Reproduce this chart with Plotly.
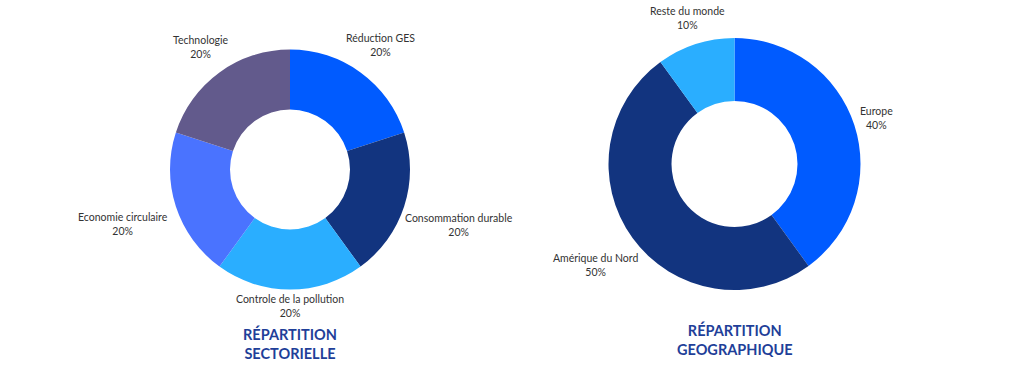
import math
import plotly.graph_objects as go

# ---- data ----
sect_labels = ["Réduction GES", "Consommation durable", "Controle de la pollution",
               "Economie circulaire", "Technologie"]
sect_values = [20, 20, 20, 20, 20]
sect_colors = ["#005BFF", "#12347F", "#2AAEFF", "#4A73FF", "#625A8C"]

geo_labels = ["Europe", "Amérique du Nord", "Reste du monde"]
geo_values = [40, 50, 10]
geo_colors = ["#005BFF", "#12347F", "#2AAEFF"]

titles = ["RÉPARTITION<br>SECTORIELLE", "RÉPARTITION<br>GEOGRAPHIQUE"]

W, H = 1024, 373
FONT = "Lato"
LABEL_SIZE = 10.5
TEXT_COLOR = "#333333"
TITLE_COLOR = "#1F3F99"

# donut placement (pixels): center x, center y, outer radius
pies = [
    dict(labels=sect_labels, values=sect_values, colors=sect_colors,
         cx=290, cy=169.5, r=120, title=titles[0], ty=343),
    dict(labels=geo_labels, values=geo_values, colors=geo_colors,
         cx=734.5, cy=164, r=126, title=titles[1], ty=339),
]

fig = go.Figure()
annotations = []
for p in pies:
    x0, x1 = (p["cx"] - p["r"]) / W, (p["cx"] + p["r"]) / W
    y0, y1 = 1 - (p["cy"] + p["r"]) / H, 1 - (p["cy"] - p["r"]) / H
    fig.add_trace(go.Pie(
        labels=p["labels"], values=p["values"],
        marker=dict(colors=p["colors"], line=dict(width=0)),
        hole=0.5, sort=False, direction="clockwise", rotation=0,
        textinfo="none", domain=dict(x=[x0, x1], y=[y0, y1]),
        showlegend=False,
    ))
    total = sum(p["values"])
    cum = 0
    for lab, val in zip(p["labels"], p["values"]):
        mid = (cum + val / 2) / total * 2 * math.pi
        cum += val
        s, c = math.sin(mid), math.cos(mid)
        hw = len(lab) * 5.3 / 2
        hh = 13
        rr = 1.03 * p["r"] + abs(s) * hw + abs(c) * hh
        px = p["cx"] + rr * s
        py = p["cy"] - rr * c
        pct = round(val / total * 100)
        annotations.append(dict(
            x=px / W, y=1 - py / H, xref="paper", yref="paper",
            text=f"{lab}<br>{pct}%", showarrow=False,
            xanchor="center", yanchor="middle", align="center",
            font=dict(family=FONT, size=LABEL_SIZE, color=TEXT_COLOR),
        ))
    annotations.append(dict(
        x=p["cx"] / W, y=1 - p["ty"] / H, xref="paper", yref="paper",
        text=f"<b>{p['title']}</b>", showarrow=False,
        xanchor="center", yanchor="middle", align="center",
        font=dict(family=FONT, size=14.5, color=TITLE_COLOR),
    ))

fig.update_layout(
    width=W, height=H,
    margin=dict(l=0, r=0, t=0, b=0),
    paper_bgcolor="white", plot_bgcolor="white",
    annotations=annotations,
)
fig.write_html("out.html", config={"displayModeBar": False},
               post_script="document.body.style.margin='0';")
